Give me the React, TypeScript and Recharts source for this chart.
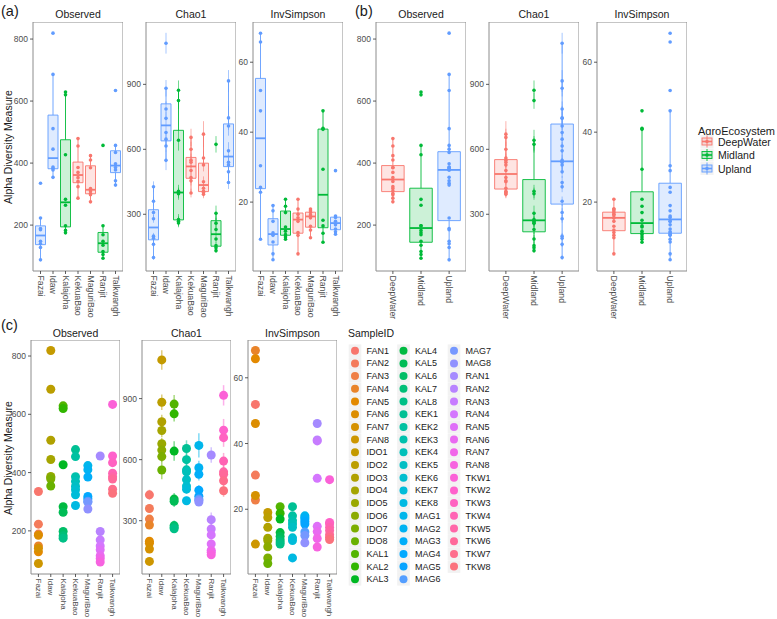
import React from 'react';
import { ComposedChart, XAxis, YAxis, Scatter, ReferenceArea, ReferenceLine } from 'recharts';

// ---------------- data ----------------
const sites = ['Fazai', 'Idaw', 'Kalajoha', 'KekuaBao', 'MaguriBao', 'Ranjit', 'Talkwangh'];
const sitePrefixes = ['FAN', 'IDO', 'KAL', 'KEK', 'MAG', 'RAN', 'TKW'];
const siteAgro = ['Upland', 'Upland', 'Midland', 'DeepWater', 'DeepWater', 'Midland', 'Upland'];
const agroGroups = ['DeepWater', 'Midland', 'Upland'];
const agroColors = ['#F8766D', '#00BA38', '#619CFF'];

const observedFazai = [335, 223, 189, 148, 128, 185, 140, 88];
const observedIdaw = [819, 686, 511, 445, 387, 383, 378, 354];
const observedKalajoha = [629, 620, 427, 283, 264, 198, 183, 175];
const observedKekuaBao = [479, 455, 386, 370, 353, 341, 324, 287];
const observedMaguriBao = [424, 410, 385, 318, 310, 302, 298, 275];
const observedRanjit = [457, 198, 169, 148, 135, 115, 105, 93];
const observedTalkwangh = [634, 457, 434, 398, 386, 378, 343, 329];

const chao1Fazai = [427, 360, 308, 279, 199, 189, 161, 100];
const chao1Idaw = [1090, 882, 786, 743, 678, 647, 615, 549];
const chao1Kalajoha = [873, 825, 642, 406, 395, 276, 268, 260];
const chao1KekuaBao = [655, 600, 550, 540, 502, 470, 455, 398];
const chao1MaguriBao = [670, 560, 528, 450, 420, 406, 401, 392];
const chao1Ranjit = [623, 305, 259, 230, 186, 155, 145, 132];
const chao1Talkwangh = [916, 745, 708, 593, 540, 528, 496, 447];

const seChao1Fazai = [25, 22, 20, 18, 15, 14, 12, 10];
const seChao1Idaw = [48, 38, 35, 32, 30, 28, 25, 45];
const seChao1Kalajoha = [45, 38, 48, 30, 28, 25, 22, 20];
const seChao1KekuaBao = [40, 35, 30, 28, 25, 25, 22, 20];
const seChao1MaguriBao = [60, 35, 30, 25, 22, 20, 18, 18];
const seChao1Ranjit = [38, 35, 25, 22, 18, 15, 12, 10];
const seChao1Talkwangh = [50, 55, 45, 40, 35, 30, 28, 30];

const invFazai = [51.9, 30.4, 22.8, 68.3, 65.8, 46.1, 24.2, 9.4];
const invIdaw = [19.0, 17.5, 14.5, 11.2, 10.5, 8.6, 5.2, 3.5];
const invKalajoha = [20.8, 18.8, 17.0, 12.9, 11.7, 10.7, 10.0, 9.4];
const invKekuaBao = [20.8, 18.0, 16.5, 15.5, 14.5, 11.3, 10.5, 5.2];
const invMaguriBao = [18.0, 17.5, 17.0, 16.3, 15.5, 13.1, 12.0, 9.8];
const invRanjit = [46.1, 41.1, 40.8, 29.4, 14.8, 13.2, 11.1, 8.5];
const invTalkwangh = [29.0, 16.0, 15.6, 14.5, 13.5, 12.3, 11.5, 10.8];

const observedBySite = [observedFazai, observedIdaw, observedKalajoha, observedKekuaBao, observedMaguriBao, observedRanjit, observedTalkwangh];
const chao1BySite = [chao1Fazai, chao1Idaw, chao1Kalajoha, chao1KekuaBao, chao1MaguriBao, chao1Ranjit, chao1Talkwangh];
const seBySite = [seChao1Fazai, seChao1Idaw, seChao1Kalajoha, seChao1KekuaBao, seChao1MaguriBao, seChao1Ranjit, seChao1Talkwangh];
const invBySite = [invFazai, invIdaw, invKalajoha, invKekuaBao, invMaguriBao, invRanjit, invTalkwangh];

const measureNames = ['Observed', 'Chao1', 'InvSimpson'];
const measureDomains: [number, number][] = [[52, 855], [38, 1188], [0.3, 71.5]];
const measureTicks = [[200, 400, 600, 800], [300, 600, 900], [20, 40, 60]];

// ---------------- helpers ----------------
function hcl(h: number, c: number, l: number): string {
  const hr = (h * Math.PI) / 180;
  const U = c * Math.cos(hr);
  const V = c * Math.sin(hr);
  const Xn = 95.047, Yn = 100, Zn = 108.883;
  const un = (4 * Xn) / (Xn + 15 * Yn + 3 * Zn);
  const vn = (9 * Yn) / (Xn + 15 * Yn + 3 * Zn);
  const Y = l > 8 ? Yn * Math.pow((l + 16) / 116, 3) : (Yn * l) / 903.3;
  const u = U / (13 * l) + un;
  const v = V / (13 * l) + vn;
  const X = (Y * 9 * u) / (4 * v);
  const Z = (Y * (12 - 3 * u - 20 * v)) / (4 * v);
  const x = X / 100, y = Y / 100, z = Z / 100;
  const lin = [
    3.240479 * x - 1.53715 * y - 0.498535 * z,
    -0.969256 * x + 1.875992 * y + 0.041556 * z,
    0.055648 * x - 0.204043 * y + 1.057311 * z,
  ];
  return (
    '#' +
    lin
      .map((t) => {
        let g = t <= 0.0031308 ? 12.92 * t : 1.055 * Math.pow(t, 1 / 2.4) - 0.055;
        g = Math.max(0, Math.min(1, g));
        return Math.round(g * 255).toString(16).padStart(2, '0');
      })
      .join('')
  );
}

type Sample = { id: string; site: number; agro: number; vals: number[]; se: number; color: string };

const NS = sites.length * 8;
const samples: Sample[] = [];
sites.forEach((_, s) => {
  for (let i = 0; i < 8; i++) {
    const idx = s * 8 + i;
    samples.push({
      id: sitePrefixes[s] + (i + 1),
      site: s,
      agro: agroGroups.indexOf(siteAgro[s]),
      vals: [observedBySite[s][i], chao1BySite[s][i], invBySite[s][i]],
      se: seBySite[s][i],
      color: hcl(15 + (360 * idx) / NS, 100, 65),
    });
  }
});

function quantile(sorted: number[], p: number) {
  const h = (sorted.length - 1) * p;
  const lo = Math.floor(h);
  const hi = Math.ceil(h);
  return sorted[lo] + (h - lo) * (sorted[hi] - sorted[lo]);
}

type Box = { x: number; q1: number; med: number; q3: number; lo: number; hi: number; color: string };

function boxStats(values: number[], x: number, color: string): Box {
  const s = [...values].sort((a, b) => a - b);
  const q1 = quantile(s, 0.25);
  const med = quantile(s, 0.5);
  const q3 = quantile(s, 0.75);
  const iqr = q3 - q1;
  const lo = Math.min(...s.filter((v) => v >= q1 - 1.5 * iqr));
  const hi = Math.max(...s.filter((v) => v <= q3 + 1.5 * iqr));
  return { x, q1, med, q3, lo, hi, color };
}

type Pt = { x: number; y: number; color: string };
type Err = { x: number; lo: number; hi: number; color: string };

const YW = 30;
const XH = 70;

function makeTick(cats: string[], fs: number) {
  return (p: any) => {
    const { x, y, payload } = p;
    const label = cats[Math.round(payload.value) - 1] ?? '';
    return (
      <text
        x={x}
        y={y}
        transform={`rotate(90 ${x} ${y})`}
        textAnchor="start"
        dominantBaseline="central"
        fontSize={fs}
        fill="#4d4d4d"
      >
        {label}
      </text>
    );
  };
}

function Facet(props: {
  left: number;
  top: number;
  w: number;
  h: number;
  cats: string[];
  measure: number;
  points: Pt[];
  boxes: Box[];
  errs: Err[];
  r: number;
  errWidth: number;
  errOpacity: number;
  xfs: number;
}) {
  const { left, top, w, h, cats, measure, points, boxes, errs, r, errWidth, errOpacity, xfs } = props;
  const dom = measureDomains[measure];
  const n = cats.length;
  const bw = 0.4;
  return (
    <div style={{ position: 'absolute', left: left - YW, top }}>
      <ComposedChart width={w + YW} height={h + XH} margin={{ top: 0, right: 0, bottom: 0, left: 0 }}>
        <XAxis
          type="number"
          dataKey="x"
          domain={[0.4, n + 0.6]}
          ticks={cats.map((_, i) => i + 1)}
          allowDataOverflow
          interval={0}
          axisLine={false}
          tickLine={{ stroke: '#333333', strokeWidth: 0.8 }}
          tickSize={3}
          tickMargin={1.5}
          height={XH}
          tick={makeTick(cats, xfs)}
        />
        <YAxis
          type="number"
          dataKey="y"
          domain={dom}
          ticks={measureTicks[measure]}
          allowDataOverflow
          interval={0}
          axisLine={false}
          tickLine={{ stroke: '#333333', strokeWidth: 0.8 }}
          tickSize={3}
          tickMargin={2}
          width={YW}
          tick={{ fontSize: 8.5, fill: '#4d4d4d' }}
        />
        {boxes.map((b, i) => (
          <ReferenceArea
            key={'ba' + i}
            x1={b.x - bw}
            x2={b.x + bw}
            y1={b.q1}
            y2={b.q3}
            fill={b.color}
            fillOpacity={0.2}
            stroke={b.color}
            strokeWidth={0.9}
            strokeOpacity={1}
            ifOverflow="visible"
          />
        ))}
        {boxes.map((b, i) => (
          <ReferenceLine
            key={'wu' + i}
            segment={[{ x: b.x, y: b.q3 }, { x: b.x, y: b.hi }]}
            stroke={b.color}
            strokeWidth={0.9}
            ifOverflow="visible"
          />
        ))}
        {boxes.map((b, i) => (
          <ReferenceLine
            key={'wl' + i}
            segment={[{ x: b.x, y: b.q1 }, { x: b.x, y: b.lo }]}
            stroke={b.color}
            strokeWidth={0.9}
            ifOverflow="visible"
          />
        ))}
        {boxes.map((b, i) => (
          <ReferenceLine
            key={'md' + i}
            segment={[{ x: b.x - bw, y: b.med }, { x: b.x + bw, y: b.med }]}
            stroke={b.color}
            strokeWidth={1.8}
            ifOverflow="visible"
          />
        ))}
        {errs.map((e, i) => (
          <ReferenceLine
            key={'er' + i}
            segment={[{ x: e.x, y: e.lo }, { x: e.x, y: e.hi }]}
            stroke={e.color}
            strokeWidth={errWidth}
            strokeOpacity={errOpacity}
            ifOverflow="visible"
          />
        ))}
        <ReferenceArea
          x1={0.4}
          x2={n + 0.6}
          y1={dom[0]}
          y2={dom[1]}
          fill="none"
          stroke="#8c8c8c"
          strokeWidth={1}
          ifOverflow="visible"
        />
        <Scatter
          data={points}
          dataKey="y"
          isAnimationActive={false}
          shape={(p: any) => <circle cx={p.cx} cy={p.cy} r={r} fill={p.payload.color} />}
        />
      </ComposedChart>
    </div>
  );
}

// ---------------- figure pieces ----------------
const txt: React.CSSProperties = { position: 'absolute', whiteSpace: 'nowrap', color: '#1a1a1a', lineHeight: '12px' };

function StripTitle({ left, w, cy, label }: { left: number; w: number; cy: number; label: string }) {
  return <div style={{ ...txt, left, top: cy - 6, width: w, textAlign: 'center', fontSize: 10.5 }}>{label}</div>;
}

function YTitle({ cx, cy }: { cx: number; cy: number }) {
  return (
    <div
      style={{
        ...txt,
        left: cx - 100,
        top: cy - 6,
        width: 200,
        textAlign: 'center',
        fontSize: 10.5,
        transform: 'rotate(-90deg)',
        transformOrigin: '50% 50%',
      }}
    >
      Alpha Diversity Measure
    </div>
  );
}

export default function App() {
  const panelsA = [33, 146, 253];
  const panelsB = [376, 489, 597];
  const panelsC = [31, 142, 248];
  const topAB = 22, hAB = 249, wAB = 90;
  const topC = 340, hC = 234, wC = 89;

  const facetsA = measureNames.map((_, m) => {
    const pts: Pt[] = samples.map((s) => ({ x: s.site + 1, y: s.vals[m], color: agroColors[s.agro] }));
    const boxes = sites.map((_, si) =>
      boxStats(samples.filter((s) => s.site === si).map((s) => s.vals[m]), si + 1, agroColors[agroGroups.indexOf(siteAgro[si])])
    );
    const errs: Err[] = m === 1 ? samples.map((s) => ({ x: s.site + 1, lo: s.vals[1] - s.se, hi: s.vals[1] + s.se, color: agroColors[s.agro] })) : [];
    return (
      <Facet key={'a' + m} left={panelsA[m]} top={topAB} w={wAB} h={hAB} cats={sites} measure={m}
        points={pts} boxes={boxes} errs={errs} r={1.8} errWidth={0.7} errOpacity={0.8} xfs={8.7} />
    );
  });

  const facetsB = measureNames.map((_, m) => {
    const pts: Pt[] = samples.map((s) => ({ x: s.agro + 1, y: s.vals[m], color: agroColors[s.agro] }));
    const boxes = agroGroups.map((_, gi) =>
      boxStats(samples.filter((s) => s.agro === gi).map((s) => s.vals[m]), gi + 1, agroColors[gi])
    );
    const errs: Err[] = m === 1 ? samples.map((s) => ({ x: s.agro + 1, lo: s.vals[1] - s.se, hi: s.vals[1] + s.se, color: agroColors[s.agro] })) : [];
    return (
      <Facet key={'b' + m} left={panelsB[m]} top={topAB} w={wAB} h={hAB} cats={agroGroups} measure={m}
        points={pts} boxes={boxes} errs={errs} r={1.8} errWidth={0.7} errOpacity={0.8} xfs={8.7} />
    );
  });

  const facetsC = measureNames.map((_, m) => {
    const pts: Pt[] = samples.map((s) => ({ x: s.site + 1, y: s.vals[m], color: s.color }));
    const errs: Err[] = m === 1 ? samples.map((s) => ({ x: s.site + 1, lo: s.vals[1] - s.se, hi: s.vals[1] + s.se, color: s.color })) : [];
    return (
      <Facet key={'c' + m} left={panelsC[m]} top={topC} w={wC} h={hC} cats={sites} measure={m}
        points={pts} boxes={[]} errs={errs} r={4.5} errWidth={1.5} errOpacity={0.5} xfs={8} />
    );
  });

  // legend (c) layout
  const legCols = [samples.slice(0, 19), samples.slice(19, 38), samples.slice(38)];
  const legColX = [355, 403.5, 454];
  const legRow0 = 350.7;
  const legRowH = 12.7;

  return (
    <div
      style={{
        position: 'absolute',
        left: 0,
        top: 0,
        width: 777,
        height: 619,
        background: '#ffffff',
        fontFamily: '"Liberation Sans", Arial, Helvetica, sans-serif',
        overflow: 'hidden',
      }}
    >
      {/* panel labels */}
      <div style={{ ...txt, left: 1, top: 3, fontSize: 14.5, lineHeight: '16px' }}>(a)</div>
      <div style={{ ...txt, left: 355, top: 3, fontSize: 14.5, lineHeight: '16px' }}>(b)</div>
      <div style={{ ...txt, left: 1, top: 317, fontSize: 14.5, lineHeight: '16px' }}>(c)</div>

      {measureNames.map((name, m) => (
        <StripTitle key={'ta' + m} left={panelsA[m]} w={wAB} cy={14} label={name} />
      ))}
      {measureNames.map((name, m) => (
        <StripTitle key={'tb' + m} left={panelsB[m]} w={wAB} cy={14} label={name} />
      ))}
      {measureNames.map((name, m) => (
        <StripTitle key={'tc' + m} left={panelsC[m]} w={wC} cy={333} label={name} />
      ))}

      <YTitle cx={8} cy={147} />
      <YTitle cx={7.5} cy={458} />

      {facetsA}
      {facetsB}
      {facetsC}

      {/* AgroEcosystem legend */}
      <svg style={{ position: 'absolute', left: 0, top: 0 }} width={777} height={619} pointerEvents="none">
        <text x={698} y={131} fontSize={11} fill="#1a1a1a" dominantBaseline="central">AgroEcosystem</text>
        {agroGroups.map((g, i) => {
          const cy = 141.5 + i * 13.5;
          const cx = 707;
          const c = agroColors[i];
          return (
            <g key={g}>
              <rect x={cx - 6.5} y={cy - 6.5} width={13} height={13} fill="#f2f2f2" />
              <line x1={cx} x2={cx} y1={cy - 6} y2={cy + 6} stroke={c} strokeWidth={0.9} />
              <rect x={cx - 5} y={cy - 3.5} width={10} height={7} fill={c} fillOpacity={0.2} stroke={c} strokeWidth={0.9} />
              <line x1={cx - 5} x2={cx + 5} y1={cy} y2={cy} stroke={c} strokeWidth={1.6} />
              <circle cx={cx} cy={cy} r={1.8} fill={c} />
              <text x={718} y={cy} fontSize={10.5} fill="#1a1a1a" dominantBaseline="central">{g}</text>
            </g>
          );
        })}

        {/* SampleID legend */}
        <text x={348} y={333} fontSize={10.5} fill="#1a1a1a" dominantBaseline="central">SampleID</text>
        {legCols.map((col, ci) =>
          col.map((s, ri) => {
            const cy = legRow0 + ri * legRowH;
            const cx = legColX[ci];
            return (
              <g key={s.id}>
                <rect x={cx - 6.3} y={cy - 6.3} width={12.6} height={12.6} fill="#f2f2f2" />
                <circle cx={cx} cy={cy} r={4} fill={s.color} />
                <text x={cx + 11.5} y={cy} fontSize={9} fill="#1a1a1a" dominantBaseline="central">{s.id}</text>
              </g>
            );
          })
        )}
      </svg>
    </div>
  );
}
